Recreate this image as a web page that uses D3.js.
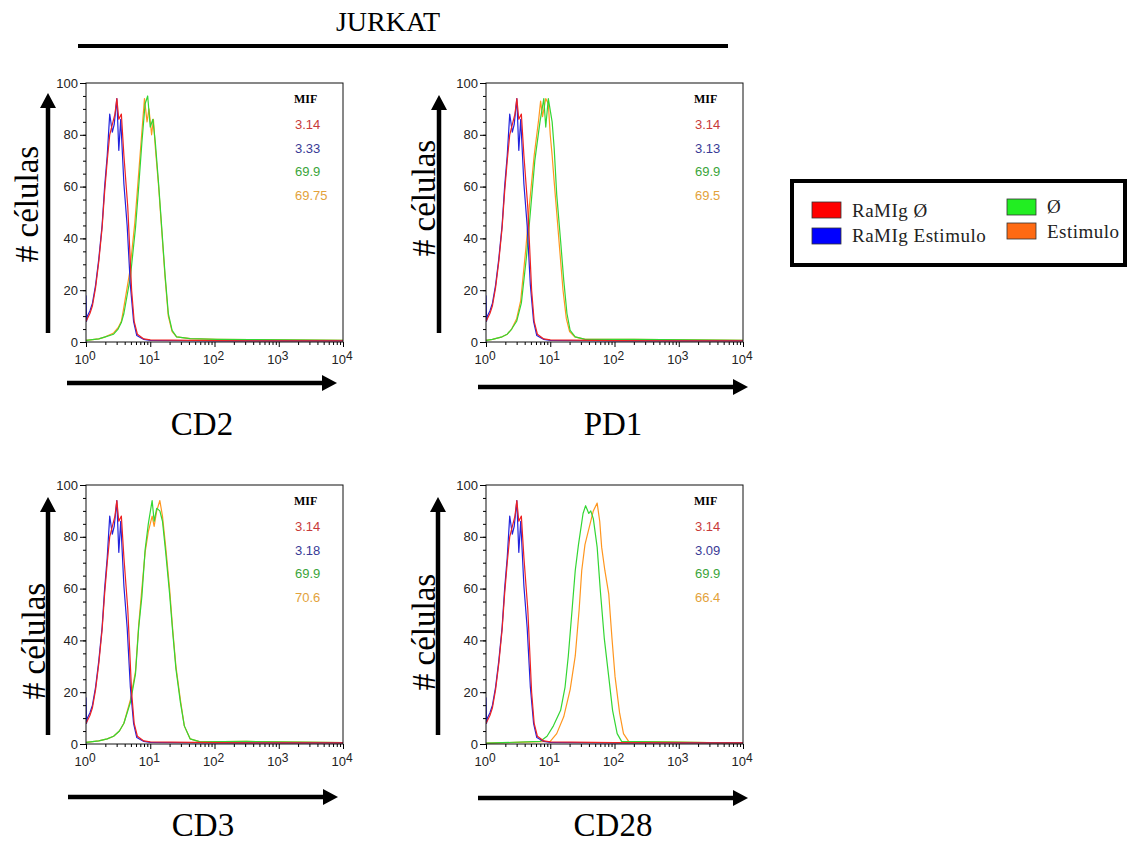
<!DOCTYPE html>
<html>
<head>
<meta charset="utf-8">
<script src="https://cdn.jsdelivr.net/npm/d3@7"></script>
<style>
  body { margin: 0; background: #fff; }
</style>
</head>
<body>
<div id="chart"></div>
<script>
// ---- data (fluorescence, # cells) ----

// isotype controls, same shape in all four panels
const redFluo  = [1, 1.05, 1.15, 1.26, 1.41, 1.58, 1.78, 1.95, 2.14, 2.34, 2.57, 2.82, 3.02, 3.24, 3.55, 3.89, 4.17, 4.47, 4.79, 5.13, 5.62, 6.31, 7.94, 10, 100, 1000, 10000];
const redCount = [8, 9, 11, 14, 21, 31, 44, 58, 70, 80, 84, 88, 94, 86, 88, 72, 62, 52, 36, 20, 8, 3, 1.2, 0.8, 0.5, 0.4, 0.4];
const blueFluo  = [1, 1.02, 1.05, 1.15, 1.26, 1.41, 1.58, 1.78, 1.95, 2.14, 2.34, 2.57, 2.75, 3.02, 3.24, 3.47, 3.89, 4.37, 4.9, 5.5, 6.17, 7.94, 10, 100, 1000, 10000];
const blueCount = [18, 8, 10, 12, 15, 22, 32, 45, 60, 72, 88, 81, 84, 94, 74, 86, 61, 45, 22, 8, 2.5, 1, 0.6, 0.4, 0.4, 0.4];

// CD2
const cd2GreenFluo  = [1, 1.58, 2.0, 2.69, 3.16, 3.55, 3.89, 4.9, 5.89, 6.61, 7.41, 8.32, 9.12, 10, 11, 12, 13.5, 15.1, 17, 19.1, 21.9, 25.7, 41.7, 110, 355, 10000];
const cd2GreenCount = [0.6, 1.2, 2, 3, 5, 7.5, 11, 25, 44, 60, 77, 92, 95, 83, 86, 77, 61, 44, 26, 11, 4.5, 2, 1.3, 1, 0.9, 0.6];
const cd2OrangeFluo  = [1, 1.58, 2.0, 2.69, 3.16, 3.55, 3.8, 4.79, 5.75, 6.46, 7.24, 8.13, 8.91, 9.55, 10.5, 11.2, 12, 13.5, 15.1, 17, 19.1, 21.9, 25.7, 41.7, 110, 355, 10000];
const cd2OrangeCount = [0.6, 1.2, 2, 3.5, 5.5, 8, 12, 27, 46, 62, 78, 94, 85, 90, 80, 86, 75, 60, 43, 25, 10, 4, 2, 1.3, 1, 0.9, 0.6];

// PD1
const pd1GreenFluo  = [1, 1.26, 1.78, 2.14, 2.51, 3.0, 3.55, 4.27, 4.9, 5.75, 6.92, 7.94, 8.51, 9.33, 10.7, 11.5, 12.6, 14.5, 16.2, 18.2, 20.4, 24.5, 35, 200, 10000];
const pd1GreenCount = [0.6, 1, 2, 3, 5, 8, 15, 33, 50, 70, 85, 94, 83, 94, 85, 75, 57, 39, 24, 11, 4.5, 2, 1, 1, 0.6];
const pd1OrangeFluo  = [1, 1.26, 1.78, 2.14, 2.51, 3.0, 3.47, 4.17, 4.79, 5.62, 6.61, 7.08, 7.59, 8.51, 9.33, 10, 10.7, 11.5, 12.6, 14.1, 15.8, 17.8, 20, 24, 35, 200, 10000];
const pd1OrangeCount = [0.6, 1, 2, 3, 5, 9, 16, 36, 54, 72, 86, 93, 87, 94, 92, 80, 72, 62, 50, 35, 20, 9, 4, 2, 1, 1, 0.6];

// CD3
const cd3GreenFluo  = [1, 1.58, 2.14, 2.69, 3.31, 3.89, 4.9, 5.89, 6.61, 7.41, 8.32, 9.33, 10.7, 11.5, 12.6, 14.1, 15.5, 17.4, 20, 22.4, 25.1, 29.5, 33.9, 41.7, 60, 316, 10000];
const cd3GreenCount = [0.6, 1.2, 2, 3, 5, 8, 16, 27, 45, 57, 75, 85, 94, 86, 91, 90, 86, 74, 58, 43, 29, 16, 7, 2, 0.8, 1, 0.5];
const cd3OrangeFluo  = [1, 1.58, 2.14, 2.69, 3.31, 3.89, 4.9, 5.89, 6.61, 7.41, 8.32, 9.33, 10.7, 11.5, 12.6, 14.1, 15.5, 17.4, 20, 22.4, 25.1, 29.5, 33.9, 41.7, 60, 316, 10000];
const cd3OrangeCount = [0.6, 1.2, 2, 3, 5, 8, 17, 28, 46, 60, 74, 82, 88, 84, 90, 94, 88, 76, 60, 44, 30, 17, 7, 2, 0.8, 1, 0.5];

// CD28
const cd28GreenFluo  = [1, 6.92, 8.91, 11.2, 14.5, 17, 19.1, 21.9, 24.5, 27.5, 32.4, 35.5, 39.8, 42.7, 46.8, 53.7, 60.3, 69.2, 81.3, 93.3, 110, 129, 10000];
const cd28GreenCount = [0.3, 1, 3, 7, 13, 22, 34, 52, 67, 77, 89, 92, 89, 90, 87, 76, 59, 41, 26, 13, 4, 1, 0.3];
const cd28OrangeFluo  = [1, 10, 12.6, 16.2, 20.4, 24.5, 28.2, 30.9, 34.7, 39.8, 43.7, 46.8, 53.7, 58.9, 63.1, 70.8, 81.3, 91.2, 102, 120, 138, 166, 10000];
const cd28OrangeCount = [0.3, 1, 4, 10.5, 21, 34, 52, 67, 77, 83, 87, 90, 93, 86, 76, 67, 58, 41, 26, 12, 4, 1, 0.3];

// MIF values per panel (red, blue, green, orange)
const mifCD2  = ["3.14", "3.33", "69.9", "69.75"];
const mifPD1  = ["3.14", "3.13", "69.9", "69.5"];
const mifCD3  = ["3.14", "3.18", "69.9", "70.6"];
const mifCD28 = ["3.14", "3.09", "69.9", "66.4"];

const markers = ["CD2", "PD1", "CD3", "CD28"];
const yTicks = [0, 20, 40, 60, 80, 100];
const xTicks = [1, 10, 100, 1000, 10000];
const legendLabels = ["RaMIg Ø", "RaMIg Estimulo", "Ø", "Estimulo"];

// ---- drawing ----
const W = 1127, H = 842;
const lineColors = ["#ee2222", "#2222dd", "#33d633", "#ff961f"];
const mifColors = ["#c83a3a", "#3a3a96", "#3aa53a", "#e3a23a"];
const legendColors = ["#ff0000", "#0000ff", "#22ee22", "#ff6a13"];

const svg = d3.select("#chart")
  .append("svg")
  .attr("width", W)
  .attr("height", H)
  .style("background", "#fff");

const serif = "'Liberation Serif', 'Times New Roman', serif";
const sans = "'Liberation Sans', Arial, sans-serif";

// title + rule
svg.append("text")
  .attr("x", 388).attr("y", 31)
  .attr("text-anchor", "middle")
  .style("font-family", serif)
  .style("font-size", "28px")
  .text("JURKAT");
svg.append("line")
  .attr("x1", 78).attr("x2", 728)
  .attr("y1", 46).attr("y2", 46)
  .attr("stroke", "#000").attr("stroke-width", 4);

function arrow(g, x1, y1, x2, y2) {
  const ang = Math.atan2(y2 - y1, x2 - x1);
  const len = 15, hw = 8;
  const bx = x2 - len * Math.cos(ang), by = y2 - len * Math.sin(ang);
  g.append("line")
    .attr("x1", x1).attr("y1", y1).attr("x2", bx).attr("y2", by)
    .attr("stroke", "#000").attr("stroke-width", 4.5);
  const px = -Math.sin(ang) * hw, py = Math.cos(ang) * hw;
  g.append("polygon")
    .attr("points", `${x2},${y2} ${bx + px},${by + py} ${bx - px},${by - py}`)
    .attr("fill", "#000");
}

const panels = [
  { left: 86, top: 83, series: [[redFluo, redCount], [blueFluo, blueCount], [cd2GreenFluo, cd2GreenCount], [cd2OrangeFluo, cd2OrangeCount]], mif: mifCD2,
    yArrow: [48, 333, 93], xArrow: [67, 383, 337], yLabel: [38, 204], xLabelY: 435 },
  { left: 486, top: 83, series: [[redFluo, redCount], [blueFluo, blueCount], [pd1GreenFluo, pd1GreenCount], [pd1OrangeFluo, pd1OrangeCount]], mif: mifPD1,
    yArrow: [439, 333, 95], xArrow: [478, 387, 748], yLabel: [435, 198], xLabelY: 435 },
  { left: 86, top: 485, series: [[redFluo, redCount], [blueFluo, blueCount], [cd3GreenFluo, cd3GreenCount], [cd3OrangeFluo, cd3OrangeCount]], mif: mifCD3,
    yArrow: [48, 735, 497], xArrow: [68, 797, 338], yLabel: [45, 641], xLabelY: 836 },
  { left: 486, top: 485, series: [[redFluo, redCount], [blueFluo, blueCount], [cd28GreenFluo, cd28GreenCount], [cd28OrangeFluo, cd28OrangeCount]], mif: mifCD28,
    yArrow: [438, 735, 497], xArrow: [478, 798, 748], yLabel: [435, 632], xLabelY: 836 }
];

const pw = 257, ph = 259;
const x = d3.scaleLog().domain([1, 10000]).range([0, pw]);
const y = d3.scaleLinear().domain([0, 100]).range([ph, 0]);

const minorX = [];
xTicks.slice(0, -1).forEach(d => { for (let k = 2; k <= 9; k++) minorX.push(d * k); });

panels.forEach((p, i) => {
  const g = svg.append("g").attr("transform", `translate(${p.left},${p.top})`);

  g.append("clipPath").attr("id", `clip${i}`)
    .append("rect").attr("width", pw).attr("height", ph);

  const line = d3.line()
    .x(d => x(d[0]))
    .y(d => y(d[1]));

  // draw orange, green, blue, red
  [3, 2, 1, 0].forEach(s => {
    const [fx, fy] = p.series[s];
    g.append("path")
      .datum(d3.zip(fx, fy))
      .attr("clip-path", `url(#clip${i})`)
      .attr("fill", "none")
      .attr("stroke", lineColors[s])
      .attr("stroke-width", 1.2)
      .attr("stroke-linejoin", "round")
      .attr("d", line);
  });

  // frame
  g.append("rect")
    .attr("width", pw).attr("height", ph)
    .attr("fill", "none").attr("stroke", "#111").attr("stroke-width", 1);

  // y axis
  const ya = g.append("g")
    .call(d3.axisLeft(y).tickValues(yTicks).tickSize(6).tickPadding(2));
  ya.select(".domain").remove();
  ya.selectAll("text").style("font-family", sans).style("font-size", "13px").attr("fill", "#222");
  g.append("g")
    .call(d3.axisLeft(y).tickValues(d3.range(0, 101, 5)).tickSize(3).tickFormat(""))
    .select(".domain").remove();

  // x axis
  const xa = g.append("g").attr("transform", `translate(0,${ph})`)
    .call(d3.axisBottom(x).tickValues(xTicks).tickSize(5).tickFormat(""));
  xa.select(".domain").remove();
  g.append("g").attr("transform", `translate(0,${ph})`)
    .call(d3.axisBottom(x).tickValues(minorX).tickSize(3).tickFormat(""))
    .select(".domain").remove();

  const xl = g.append("g")
    .selectAll("text")
    .data(xTicks)
    .enter()
    .append("text")
    .attr("x", d => x(d) - 1)
    .attr("y", ph + 22)
    .attr("text-anchor", "middle")
    .style("font-family", sans)
    .style("font-size", "13px")
    .attr("fill", "#222");
  xl.append("tspan").text("10");
  xl.append("tspan")
    .attr("dy", -4)
    .style("font-size", "12px")
    .text(d => Math.round(Math.log10(d)));

  // MIF block
  g.append("text")
    .attr("x", 208).attr("y", 20)
    .style("font-family", serif)
    .style("font-size", "12px")
    .style("font-weight", "bold")
    .text("MIF");
  g.selectAll(".mif")
    .data(p.mif)
    .enter()
    .append("text")
    .attr("class", "mif")
    .attr("x", 209)
    .attr("y", (d, k) => 46 + k * 23.5)
    .style("font-family", sans)
    .style("font-size", "13px")
    .attr("fill", (d, k) => mifColors[k])
    .text(d => d);

  // arrows and axis titles
  arrow(svg, p.yArrow[0], p.yArrow[1], p.yArrow[0], p.yArrow[2]);
  arrow(svg, p.xArrow[0], p.xArrow[1], p.xArrow[2], p.xArrow[1]);

  svg.append("text")
    .attr("transform", `translate(${p.yLabel[0]},${p.yLabel[1]}) rotate(-90)`)
    .attr("text-anchor", "middle")
    .style("font-family", serif)
    .style("font-size", "33px")
    .text("# células");

  svg.append("text")
    .attr("x", (p.xArrow[0] + p.xArrow[2]) / 2)
    .attr("y", p.xLabelY)
    .attr("text-anchor", "middle")
    .style("font-family", serif)
    .style("font-size", "33px")
    .text(markers[i]);
});

// legend
const legend = svg.append("g");
legend.append("rect")
  .attr("x", 792).attr("y", 181)
  .attr("width", 333).attr("height", 84)
  .attr("fill", "#fff").attr("stroke", "#000").attr("stroke-width", 4);

const legendPos = [
  { sx: 812, sy: 202, tx: 852, ty: 217 },
  { sx: 812, sy: 228, tx: 852, ty: 242 },
  { sx: 1007, sy: 199, tx: 1047, ty: 213 },
  { sx: 1007, sy: 223, tx: 1047, ty: 238 }
];
legendLabels.forEach((label, k) => {
  const lp = legendPos[k];
  legend.append("rect")
    .attr("x", lp.sx).attr("y", lp.sy)
    .attr("width", 29).attr("height", 16)
    .attr("fill", legendColors[k])
    .attr("stroke", "#333").attr("stroke-width", 0.8);
  legend.append("text")
    .attr("x", lp.tx).attr("y", lp.ty)
    .style("font-family", serif)
    .style("font-size", "19px")
    .style("letter-spacing", "0.5px")
    .attr("fill", "#222")
    .text(label);
});
</script>
</body>
</html>
